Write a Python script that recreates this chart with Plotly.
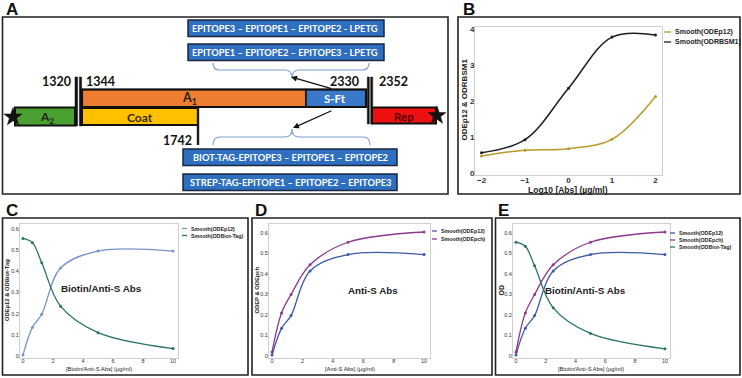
import plotly.graph_objects as go
import math

W, H = 742, 378

# ---------------- data ----------------
# Panel B
b_x = [-2, -1, 0, 1, 2]
b_odep12 = [0.48, 0.64, 0.68, 0.94, 2.13]
b_odrbsm1 = [0.57, 0.93, 2.36, 3.78, 3.84]
b_names = ["Smooth(ODEp12)", "Smooth(ODRBSM1)"]
b_colors = ["#b89a2e", "#1e1e1e"]

# Panels C, D, E (concentration in µg/ml)
conc = [0, 0.625, 1.25, 2.5, 5, 10]
od_ep12 = [0.005, 0.135, 0.197, 0.415, 0.495, 0.495]
od_biot = [0.555, 0.535, 0.44, 0.235, 0.11, 0.035]
od_epch = [0.02, 0.21, 0.30, 0.445, 0.555, 0.605]

c_names = ["Smooth(ODEp12)", "Smooth(ODBiot-Tag)"]
d_names = ["Smooth(ODEp12)", "Smooth(ODEpch)"]
e_names = ["Smooth(ODEp12)", "Smooth(ODEpch)", "Smooth(ODBiot-Tag)"]

# Panel A texts
top_constructs = ["EPITOPE3 \u2013 EPITOPE1 \u2013 EPITOPE2 - LPETG",
                  "EPITOPE1 \u2013 EPITOPE2 \u2013 EPITOPE3 - LPETG"]
bottom_constructs = ["BIOT-TAG-EPITOPE3 \u2013 EPITOPE1 \u2013 EPITOPE2",
                     "STREP-TAG-EPITOPE1 \u2013 EPITOPE2 \u2013 EPITOPE3"]
positions = ["1320", "1344", "2330", "2352", "1742"]

FONT = "Liberation Sans, Arial, sans-serif"
AFONT = "Lato, Open Sans, sans-serif"


def X(px):
    return px / W


def Y(py):
    return 1 - py / H


shapes = []
annots = []


def rect(x0, y0, x1, y1, fill="rgba(0,0,0,0)", line="#1a1a1a", lw=1.5):
    shapes.append(dict(type="rect", xref="paper", yref="paper",
                       x0=X(x0), x1=X(x1), y0=Y(y1), y1=Y(y0),
                       fillcolor=fill, line=dict(color=line, width=lw),
                       layer="above"))


def seg(x0, y0, x1, y1, color="#1a1a1a", lw=1.5):
    shapes.append(dict(type="line", xref="paper", yref="paper",
                       x0=X(x0), x1=X(x1), y0=Y(y0), y1=Y(y1),
                       line=dict(color=color, width=lw), layer="above"))


def path(cmds, color, lw=1.2, fill="rgba(0,0,0,0)"):
    out = []
    for c in cmds:
        if isinstance(c, str):
            out.append(c)
        else:
            out.append("%.5f,%.5f" % (X(c[0]), Y(c[1])))
    shapes.append(dict(type="path", xref="paper", yref="paper",
                       path=" ".join(out), fillcolor=fill,
                       line=dict(color=color, width=lw), layer="above"))


def text(x, y, s, size, color="#111", bold=True, family=AFONT,
         xanchor="center", yanchor="middle", angle=0):
    annots.append(dict(x=X(x), y=Y(y), xref="paper", yref="paper",
                       text=("<b>%s</b>" % s) if bold else s,
                       showarrow=False, xanchor=xanchor, yanchor=yanchor,
                       textangle=angle,
                       font=dict(size=size, color=color, family=family)))


def star(cx, cy, R=9.5, r=3.8):
    pts = []
    for i in range(10):
        ang = -math.pi / 2 + i * math.pi / 5
        rr = R if i % 2 == 0 else r
        pts.append((cx + rr * math.cos(ang), cy + rr * math.sin(ang)))
    cmds = ["M", pts[0]]
    for p in pts[1:]:
        cmds += ["L", p]
    cmds.append("Z")
    path(cmds, "#111", lw=0.5, fill="#111")


# ---------------- panel boxes ----------------
rect(2.5, 17, 448, 194, lw=1.6, line="#222")
rect(458, 17, 740, 194, lw=1.6, line="#222")
rect(2.5, 218, 248, 375, lw=1.6, line="#222")
rect(252, 218, 492, 375, lw=1.6, line="#222")
rect(495.5, 218, 740, 375, lw=1.6, line="#222")

for lab, x, y in [("A", 4, 9), ("B", 461, 9), ("C", 4, 210), ("D", 253, 210), ("E", 496, 210)]:
    text(x, y, lab, 17, color="#111", family=FONT, xanchor="left")

# ---------------- panel A diagram ----------------
BLUE = "#2f6fc0"
for i, s in enumerate(top_constructs):
    y0 = [20, 44][i]
    rect(188, y0, 384, y0 + 16.5, fill=BLUE, line="#1b2640", lw=1.5)
    text(285, y0 + 8.5, s, 9.3, color="white")
for i, s in enumerate(bottom_constructs):
    y0 = [149, 174][i]
    rect(183, y0, 397, y0 + 16.5, fill=BLUE, line="#1b2640", lw=1.5)
    text(290, y0 + 8.5, s, 9.3, color="white")

# braces
BR = "#7f9fd2"
path(["M", (213, 63), "Q", (213, 70), (220, 70), "L", (285, 70),
      "Q", (292, 70), (292, 78), "Q", (292, 70), (299, 70), "L", (362, 70),
      "Q", (369, 70), (369, 63)], BR, lw=1.2)
path(["M", (213, 145), "Q", (213, 137), (220, 137), "L", (285, 137),
      "Q", (292, 137), (292, 129), "Q", (292, 137), (299, 137), "L", (363, 137),
      "Q", (370, 137), (370, 145)], BR, lw=1.2)

# bars
rect(15, 107.5, 75, 125.5, fill="#4aa030", line="#111", lw=2)      # A2
rect(82, 89.5, 306, 107, fill="#ed7d31", line="#111", lw=1.5)      # A1
rect(306, 89.5, 366, 107, fill="#3a78c9", line="#111", lw=1.5)     # S-Ft
rect(82, 89.5, 366, 107, line="#111", lw=2.2)
rect(82, 108, 198, 125, fill="#ffc000", line="#111", lw=2)         # Coat
rect(372, 107.5, 436, 123.5, fill="#ee1111", line="#111", lw=2)    # Rep

# double bars
rect(75, 77, 77.6, 126, fill="#111", line="#111", lw=0.5)
rect(79.4, 77, 81.6, 126, fill="#111", line="#111", lw=0.5)
rect(367.3, 77, 369.3, 124, fill="#111", line="#111", lw=0.5)
rect(370.7, 77, 372.7, 124, fill="#111", line="#111", lw=0.5)
seg(198, 107, 198, 145, lw=2.4)

star(13, 117)
star(437, 115.5)

text(189, 99, "A<sub>1</sub>", 12.5, color="#222")
text(140, 117, "Coat", 12, color="#3b2a00")
text(47, 117, "A<sub>2</sub>", 12, color="#222")
text(335, 98.5, "S-Ft", 11.5, color="white")
text(404, 116, "Rep", 11.5, color="#5a0000")

text(56, 81, positions[0], 12.5)
text(84, 81, positions[1], 12.5, xanchor="left")
text(361, 81, positions[2], 12.5, xanchor="right")
text(377, 81, positions[3], 12.5, xanchor="left")
text(194, 140.5, positions[4], 12.5, xanchor="right")

annots.append(dict(x=X(291), y=Y(77), xref="paper", yref="paper", ax=42, ay=12,
                   axref="pixel", ayref="pixel", text="", showarrow=True,
                   arrowhead=2, arrowsize=1, arrowwidth=1.2, arrowcolor="#111"))
annots.append(dict(x=X(293), y=Y(128), xref="paper", yref="paper", ax=40, ay=-18,
                   axref="pixel", ayref="pixel", text="", showarrow=True,
                   arrowhead=2, arrowsize=1, arrowwidth=1.2, arrowcolor="#111"))

# ---------------- charts ----------------
fig = go.Figure()


def add(x, y, name, color, xa, ya, width=1.5):
    fig.add_trace(go.Scatter(x=x, y=y, name=name, mode="lines+markers",
                             line=dict(color=color, width=width, shape="spline"),
                             marker=dict(color=color, size=3),
                             xaxis=xa, yaxis=ya, showlegend=False,
                             hoverinfo="skip"))


C_BLUE_L = "#7a94c9"
C_BLUE = "#3b5ba6"
C_PURP = "#8b3a8e"
C_TEAL = "#2b7463"

add(b_x, b_odep12, b_names[0], b_colors[0], "x", "y")
add(b_x, b_odrbsm1, b_names[1], b_colors[1], "x", "y")

add(conc, od_ep12, c_names[0], C_BLUE_L, "x2", "y2", 1.3)
add(conc, od_biot, c_names[1], C_TEAL, "x2", "y2", 1.3)

add(conc, od_ep12, d_names[0], C_BLUE, "x3", "y3", 1.3)
add(conc, od_epch, d_names[1], C_PURP, "x3", "y3", 1.3)

add(conc, od_ep12, e_names[0], C_BLUE, "x4", "y4", 1.3)
add(conc, od_epch, e_names[1], C_PURP, "x4", "y4", 1.3)
add(conc, od_biot, e_names[2], C_TEAL, "x4", "y4", 1.3)


def axis(dom, rng, dtick, fs, anchor, vertical=False, standoff=-3):
    d = dict(range=rng, dtick=dtick, showgrid=False, zeroline=False,
             showline=True, mirror=True, linecolor="#cfcfcf", linewidth=1,
             ticks="", anchor=anchor,
             tickfont=dict(size=fs, family=FONT, color="#333"),
             ticklabelstandoff=standoff, automargin=False, fixedrange=True)
    if vertical:
        d["domain"] = [Y(dom[1]), Y(dom[0])]
    else:
        d["domain"] = [X(dom[0]), X(dom[1])]
    return d


layout_axes = dict(
    xaxis=axis((475, 662), [-2.15, 2.15], 1, 8, "y", standoff=-3),
    yaxis=axis((27, 175), [-0.05, 4.06], 1, 8, "x", vertical=True, standoff=-2),
    xaxis2=axis((20, 178), [-0.2, 10.33], 2, 5.5, "y2", standoff=-3),
    yaxis2=axis((224, 358), [-0.0094, 0.623], 0.1, 5.5, "x2", vertical=True, standoff=-1),
    xaxis3=axis((269, 430), [-0.2, 10.39], 2, 5.5, "y3", standoff=-3),
    yaxis3=axis((224, 358), [-0.0098, 0.644], 0.1, 5.5, "x3", vertical=True, standoff=-1),
    xaxis4=axis((513, 670), [-0.2, 10.34], 2, 5.5, "y4", standoff=-3),
    yaxis4=axis((224, 358), [-0.0098, 0.644], 0.1, 5.5, "x4", vertical=True, standoff=-1),
)
for k in ("xaxis", "yaxis"):
    layout_axes[k]["tickprefix"] = "<b>"
    layout_axes[k]["ticksuffix"] = "</b>"

# axis titles
text(568, 190, "Log10 [Abs] (\u00b5g/ml)", 8.5, color="#222", family=FONT)
text(463.5, 100, "ODEp12 & ODRBSM1", 8, color="#222", family=FONT, angle=-90)
text(99, 368.5, "[Biotin/Anti-S Abs] (\u00b5g/ml)", 5.8, color="#222", bold=False, family=FONT)
text(7, 290, "ODEp12 & ODBiot-Tag", 5.8, color="#222", bold=True, family=FONT, angle=-90)
text(350, 368.5, "[Anti-S Abs] (\u00b5g/ml)", 5.8, color="#222", bold=False, family=FONT)
text(256.5, 290, "ODEP & ODEpch", 5.8, color="#222", bold=True, family=FONT, angle=-90)
text(591, 368.5, "[Biotin/Anti-S Abs] (\u00b5g/ml)", 5.8, color="#222", bold=False, family=FONT)
text(500.5, 290, "OD", 7, color="#222", bold=True, family=FONT, angle=-90)

# in-plot labels
text(101.5, 288, "Biotin/Anti-S Abs", 9.8, color="#222", family=FONT)
text(372.5, 290.5, "Anti-S Abs", 9.8, color="#222", family=FONT)
text(585, 290.5, "Biotin/Anti-S Abs", 9.8, color="#222", family=FONT)


def legend(x_line, ys, names, colors, fs, bold, llen=6):
    for yy, nm, col in zip(ys, names, colors):
        seg(x_line, yy, x_line + llen, yy, color=col, lw=1.3)
        text(x_line + llen + 1.5, yy, nm, fs, color="#222", bold=bold,
             family=FONT, xanchor="left")


legend(664, [32, 42], b_names, b_colors, 7, True, llen=7)
legend(182, [228.5, 235.5], c_names, [C_BLUE_L, C_TEAL], 5.3, True, llen=5)
legend(432, [231, 239], d_names, [C_BLUE, C_PURP], 5.3, True, llen=5)
legend(670, [233, 240, 247], e_names, [C_BLUE, C_PURP, C_TEAL], 5.3, True, llen=5)

fig.update_layout(template="none", width=W, height=H,
                  margin=dict(l=0, r=0, t=0, b=0, pad=0),
                  paper_bgcolor="white", plot_bgcolor="white",
                  showlegend=False, shapes=shapes, annotations=annots,
                  hovermode=False, **layout_axes)

fig.write_html("out.html",
               config={"displayModeBar": False, "staticPlot": True},
               post_script="document.body.style.margin='0';"
                           "document.body.style.padding='0';"
                           "document.body.style.overflow='hidden';")
